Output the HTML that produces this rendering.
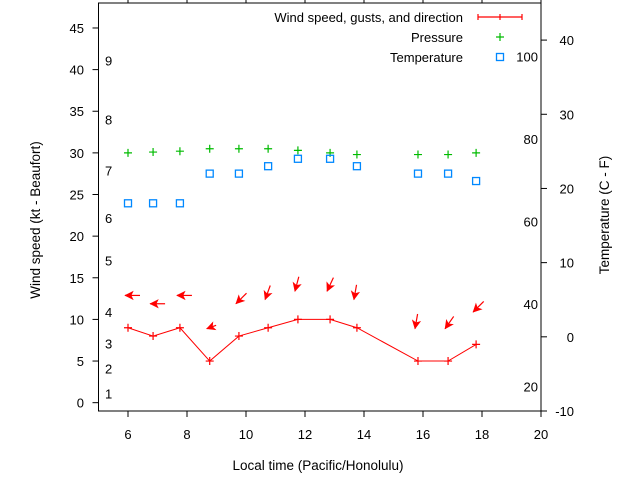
<!DOCTYPE html>
<html><head><meta charset="utf-8"><style>
body{margin:0;background:#fff}
svg text{font-family:"Liberation Sans",sans-serif;font-size:13px;fill:#000}
</style></head><body>
<svg id="c" width="640" height="480" viewBox="0 0 640 480">
<g id="g"></g>
</svg>
<script>
const times=[6.0,6.85,7.76,8.77,9.76,10.75,11.76,12.85,13.76,15.83,16.85,17.8];
const wind=[9,8,9,5,8,9,10,10,9,5,5,7];
const gusts=[13,12,13,9,12,12.5,13.5,13.5,12.5,9,9,11];
const dirs=[90,90,90,70,45,20,15,25,10,10,35,45];
const pressure=[30,30.1,30.2,30.5,30.5,30.5,30.3,30.0,29.8,29.8,29.8,30.0];
const tempC=[18,18,18,22,22,23,24,24,23,22,22,21];
const xTicks=[6,8,10,12,14,16,18,20];
const yTicks=[0,5,10,15,20,25,30,35,40,45];
const cTicks=[-10,0,10,20,30,40];
const fTicks=[20,40,60,80,100];
const beaufort=[1,2,3,4,5,6,7,8,9];
const beaufortY=[1.1,4.1,7.1,10.9,17.1,22.2,27.9,34,41.1];

const L=98.5,R=541,T=3,B=411;
const X=t=>L+(t-5)*(R-L)/15;
const Y=v=>B-(v+1)*(B-T)/49;
const YC=c=>B-(c+10)*(B-T)/55;
const g=document.getElementById('g');
const NS='http://www.w3.org/2000/svg';
function mk(tag,at,txt){const e=document.createElementNS(NS,tag);for(const k in at)e.setAttribute(k,at[k]);if(txt!==undefined)e.textContent=txt;g.appendChild(e);return e;}

let e=mk('rect',{x:L,y:T,width:R-L,height:B-T,fill:'none',stroke:'#000','stroke-width':1});


xTicks.forEach(t=>{
 e=mk('line',{x1:X(t),x2:X(t),y1:B,y2:B+6,stroke:'#000'});
 
 
 e=mk('line',{x1:X(t),x2:X(t),y1:T,y2:T-6,stroke:'#000'});
 
 
 e=mk('text',{x:X(t),y:439,'text-anchor':'middle'},t);
 
 
});
yTicks.forEach(v=>{
 e=mk('line',{x1:L,x2:L-6,y1:Y(v),y2:Y(v),stroke:'#000'});
 
 
 e=mk('text',{x:84,y:Y(v)+5,'text-anchor':'end'},v);
 
 
});
cTicks.forEach(v=>{
 e=mk('line',{x1:R,x2:R+6,y1:YC(v),y2:YC(v),stroke:'#000'});
 
 
 e=mk('text',{x:574,y:YC(v)+5,'text-anchor':'end'},v);
 
 
});
fTicks.forEach(f=>{
 e=mk('text',{x:538,y:YC((f-32)*5/9)+5,'text-anchor':'end'},f);
 
 
});
beaufort.forEach((b,i)=>{
 e=mk('text',{x:105,y:Y(beaufortY[i])+5},b);
 
 
});
e=mk('text',{x:318,y:470,'text-anchor':'middle','style':'font-size:13.5px'},'Local time (Pacific/Honolulu)');


e=mk('text',{x:0,y:0,'text-anchor':'middle','style':'font-size:13.5px',transform:'translate(40,220) rotate(-90)'},'Wind speed (kt - Beaufort)');


e=mk('text',{x:0,y:0,'text-anchor':'middle','style':'font-size:13.5px',transform:'translate(609,215) rotate(-90)'},'Temperature (C - F)');



e=mk('polyline',{points:times.map((t,i)=>X(t)+','+Y(wind[i])).join(' '),fill:'none',stroke:'#f00','stroke-width':1});


function plus(x,y,c,n){
 e=mk('path',{d:`M${x-4},${y}h8M${x},${y-4}v8`,stroke:c,'stroke-width':1.2});
 
 
}
times.forEach((t,i)=>{
 plus(X(t),Y(wind[i]),'#f00','wind-point');
 plus(X(t),Y(pressure[i]),'#0b0','pressure-point');
 e=mk('rect',{x:X(t)-3.5,y:YC(tempC[i])-3.5,width:7,height:7,fill:'none',stroke:'#08f','stroke-width':1.3});
 
 
 const a=dirs[i]*Math.PI/180, len=dirs[i]===70?10:15;
 const hx=X(t)-3, hy=Y(gusts[i])+1;
 const dx=Math.sin(a), dy=-Math.cos(a);
 const tx=hx+dx*len, ty=hy+dy*len;
 const px=-dy, py=dx;
 e=mk('line',{x1:tx,y1:ty,x2:hx,y2:hy,stroke:'#f00','stroke-width':1.2});
 
 
 e=mk('polygon',{points:`${hx},${hy} ${hx+dx*8+px*4},${hy+dy*8+py*4} ${hx+dx*6},${hy+dy*6} ${hx+dx*8-px*4},${hy+dy*8-py*4}`,fill:'#f00',stroke:'#f00','stroke-width':0.6});
 
 
});

e=mk('text',{x:463,y:22,'text-anchor':'end'},'Wind speed, gusts, and direction');


e=mk('path',{d:'M478,17h44M478,14v6M500,14v6M522,14v6',stroke:'#f00','stroke-width':1.2,fill:'none'});


e=mk('text',{x:463,y:42,'text-anchor':'end'},'Pressure');


plus(500,37,'#0b0','legend-pressure-sample');
e=mk('text',{x:463,y:62,'text-anchor':'end'},'Temperature');


e=mk('rect',{x:496.5,y:53.5,width:7,height:7,fill:'none',stroke:'#08f','stroke-width':1.3});


</script>
</body></html>
